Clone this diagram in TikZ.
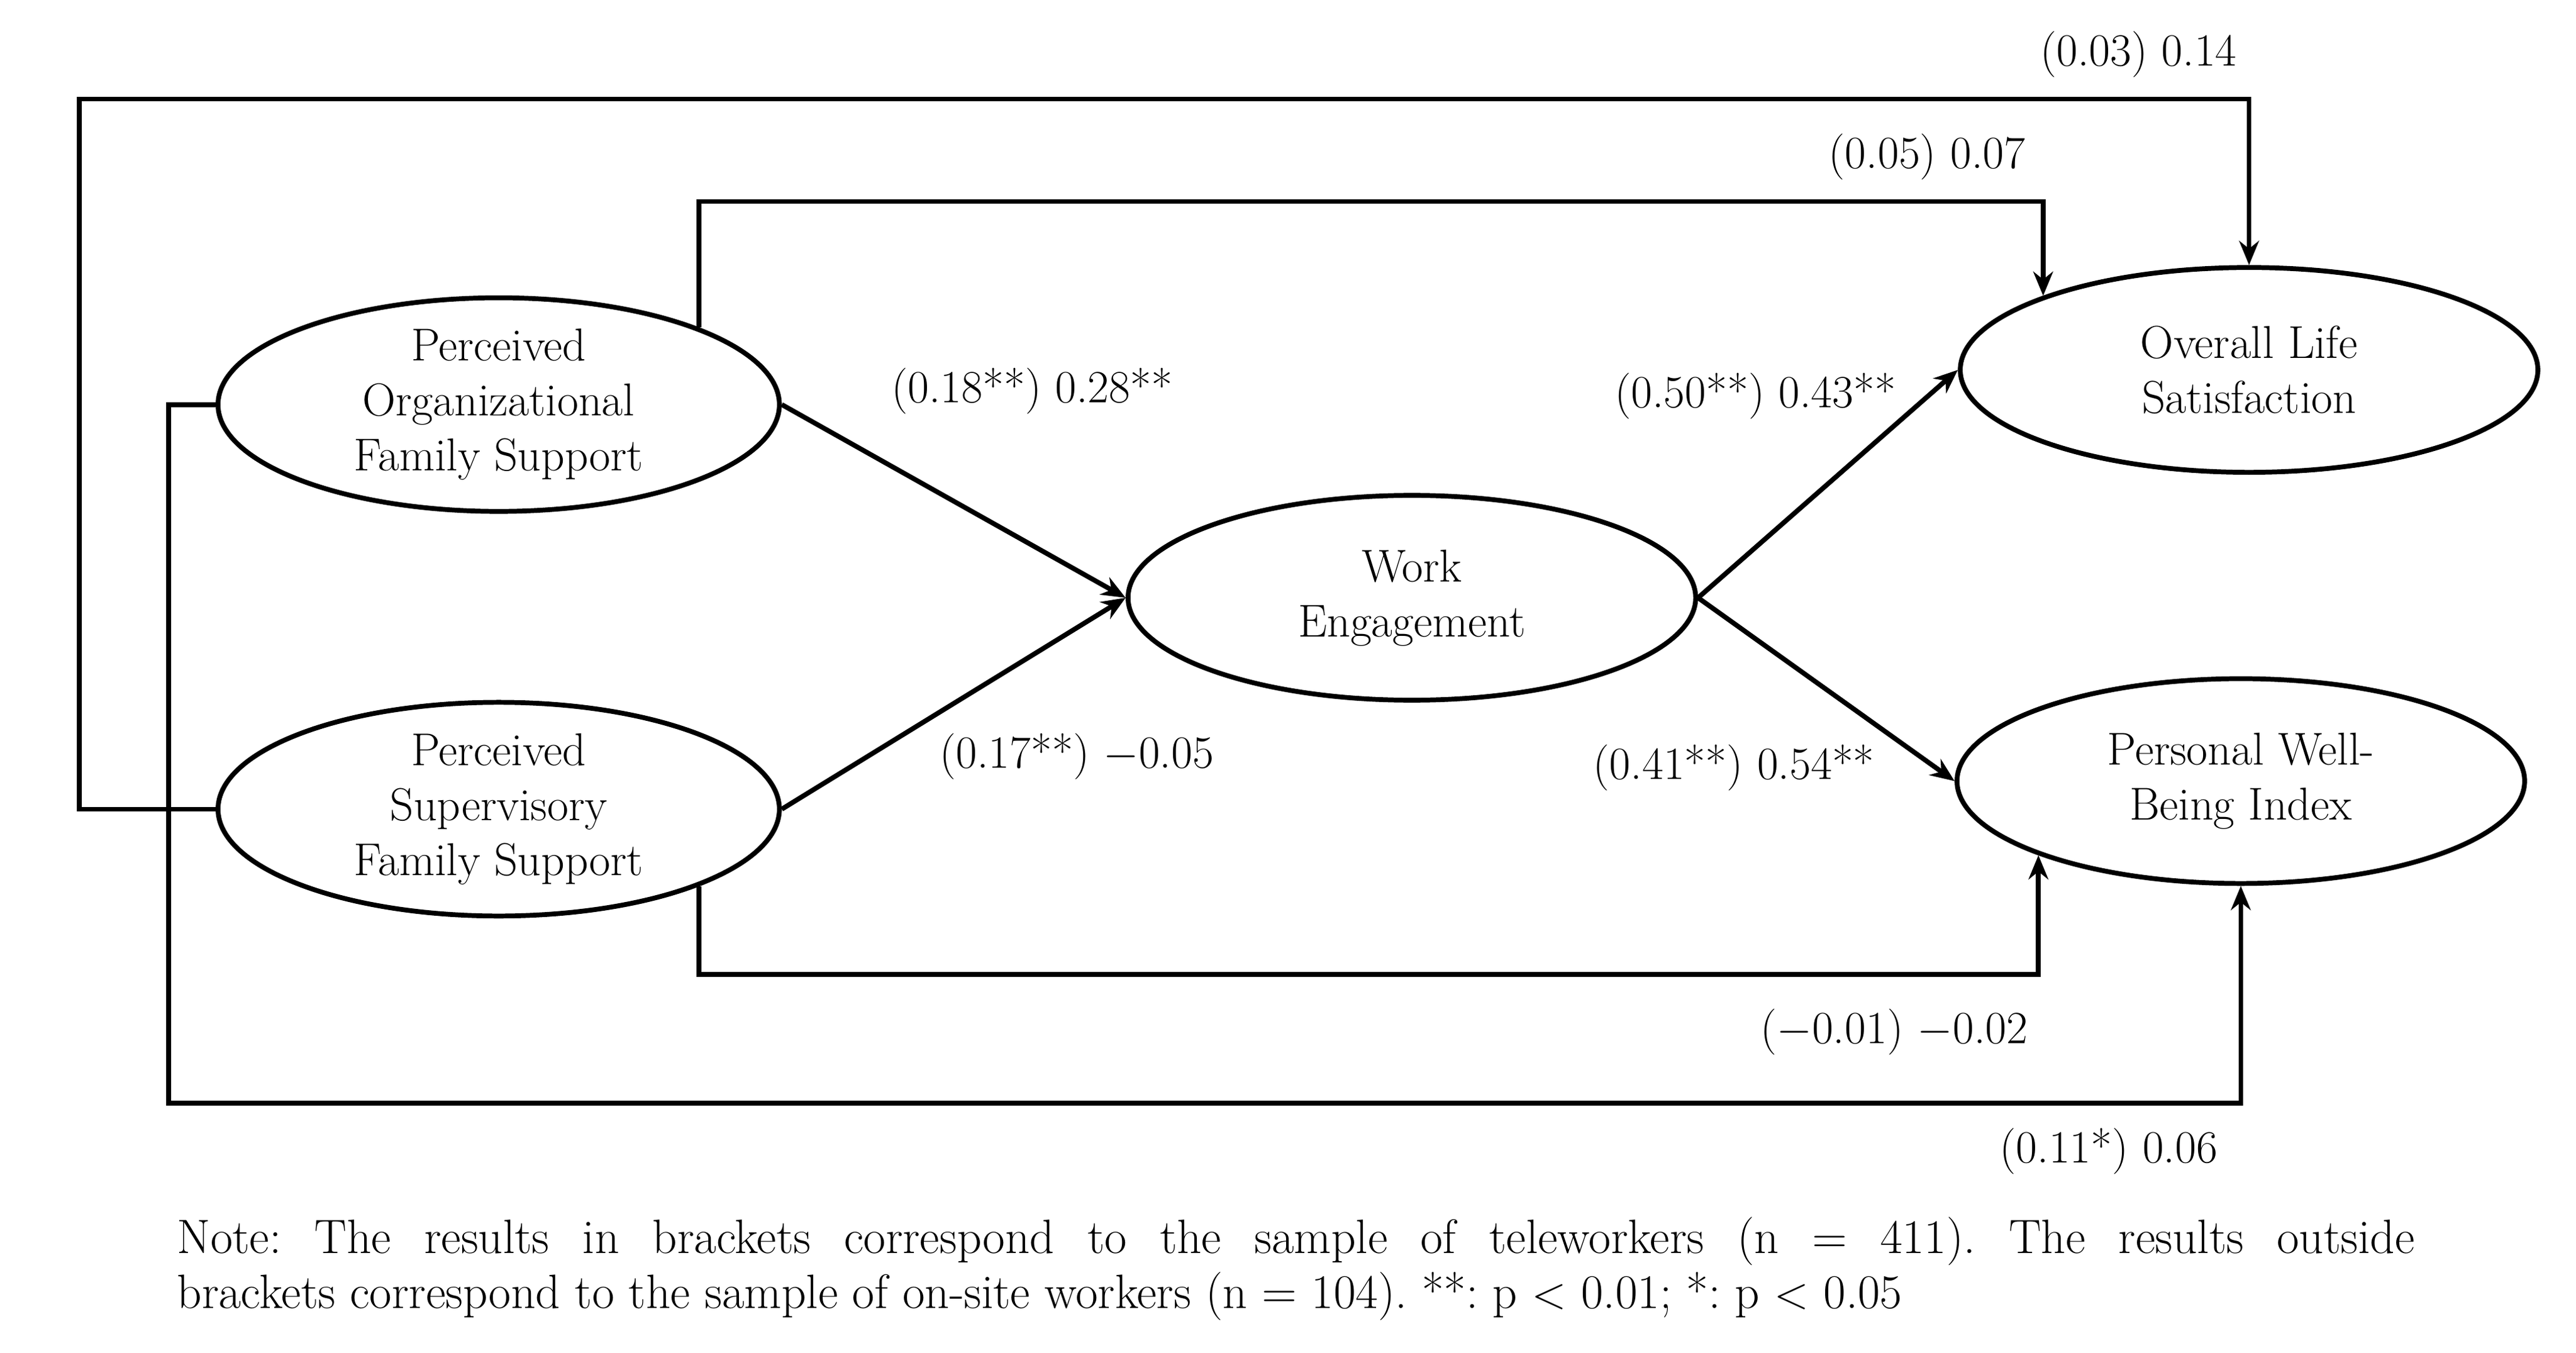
\documentclass[tikz,border=0pt]{standalone}
\usetikzlibrary{shapes.geometric,arrows.meta}
\begin{document}
\begin{tikzpicture}[x=0.02644cm,y=-0.02644cm,
  ell/.style={ellipse,draw,line width=2.2pt,inner sep=0pt,minimum width=8.99cm,minimum height=3.28cm,align=center,font=\fontsize{21}{25}\selectfont},
  lbl/.style={font=\fontsize{21}{25}\selectfont,inner sep=0pt},
  con/.style={line width=2.2pt,-{Stealth[length=11pt,width=9pt]}}]
\useasboundingbox (0,0) rectangle (1560,819);
\node[ell] (pofs) at (302,245) {Perceived\\Organizational\\Family Support};
\node[ell] (psfs) at (302,490) {Perceived\\Supervisory\\Family Support};
\node[ell,minimum width=9.09cm] (we) at (855,362) {Work\\Engagement};
\node[ell,minimum width=9.25cm] (ols) at (1362,224) {Overall Life\\Satisfaction};
\node[ell,minimum width=9.09cm] (pwbi) at (1357,473) {Personal Well-\\Being Index};
\coordinate (c1) at (0,122);
\coordinate (c2) at (48,60);
\coordinate (c3) at (0,590);
\coordinate (c4) at (102,668);
\draw[con] (pofs.east) -- (we.west);
\draw[con] (psfs.east) -- (we.west);
\draw[con] (we.east) -- (ols.west);
\draw[con] (we.east) -- (pwbi.west);
\draw[con] (pofs.north east) -- (pofs.north east |- c1) -| (ols.north west);
\draw[con] (psfs.west) -| (c2) -| (ols.north);
\draw[con] (psfs.south east) -- (psfs.south east |- c3) -| (pwbi.south west);
\draw[con] (pofs.west) -| (c4) -| (pwbi.south);
\node[lbl] (l1) at (1295,33) {(0.03) 0.14};
\node[lbl] (l2) at (1167,95) {(0.05) 0.07};
\node[lbl] (l3) at (625,237) {(0.18**) 0.28**};
\node[lbl] (l4) at (1063,240) {(0.50**) 0.43**};
\node[lbl] (l5) at (652,458) {(0.17**) $-$0.05};
\node[lbl] (l6) at (1050,465) {(0.41**) 0.54**};
\node[lbl] (l7) at (1147,625) {($-$0.01) $-$0.02};
\node[lbl] (l8) at (1277,697) {(0.11*) 0.06};
\node[lbl,font=\fontsize{22}{25}\selectfont,anchor=north west,text width=35.83cm,align=justify] (note) at (107,737) {\frenchspacing Note: The results in brackets correspond to the sample of teleworkers (n = 411). The results outside\linebreak brackets correspond to the sample of on-site workers (n = 104). **: p $<$ 0.01; *: p $<$ 0.05};
\end{tikzpicture}
\end{document}
